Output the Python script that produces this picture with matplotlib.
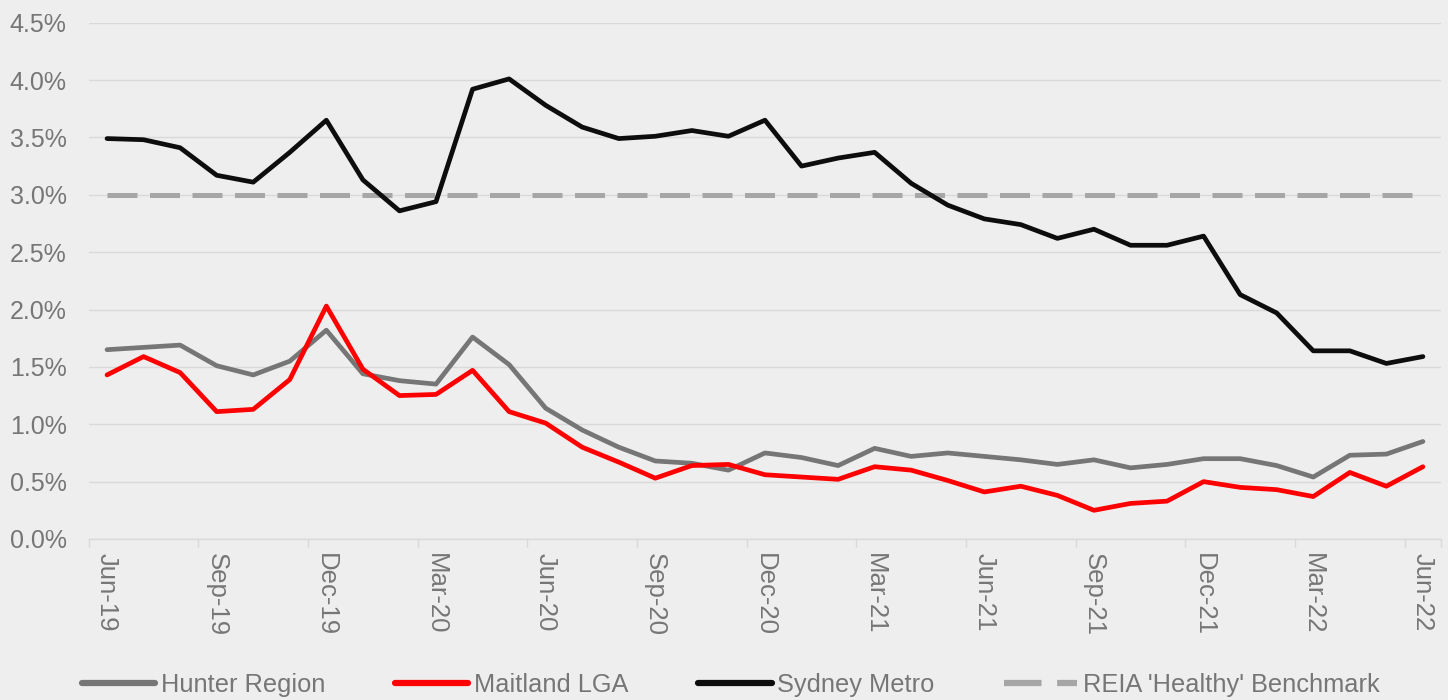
# vacancy rates: Hunter / Maitland / Sydney vs REIA benchmark

import matplotlib.pyplot as plt
from matplotlib.ticker import FuncFormatter

months = ['Jun-19', 'Jul-19', 'Aug-19', 'Sep-19', 'Oct-19', 'Nov-19', 'Dec-19',
          'Jan-20', 'Feb-20', 'Mar-20', 'Apr-20', 'May-20', 'Jun-20', 'Jul-20',
          'Aug-20', 'Sep-20', 'Oct-20', 'Nov-20', 'Dec-20', 'Jan-21', 'Feb-21',
          'Mar-21', 'Apr-21', 'May-21', 'Jun-21', 'Jul-21', 'Aug-21', 'Sep-21',
          'Oct-21', 'Nov-21', 'Dec-21', 'Jan-22', 'Feb-22', 'Mar-22', 'Apr-22',
          'May-22', 'Jun-22']

hunter = [1.65, 1.67, 1.69, 1.51, 1.43, 1.55, 1.82, 1.44, 1.38, 1.35, 1.76, 1.52,
          1.14, 0.95, 0.80, 0.68, 0.66, 0.60, 0.75, 0.71, 0.64, 0.79, 0.72, 0.75,
          0.72, 0.69, 0.65, 0.69, 0.62, 0.65, 0.70, 0.70, 0.64, 0.54, 0.73, 0.74,
          0.85]
maitland = [1.43, 1.59, 1.45, 1.11, 1.13, 1.39, 2.03, 1.48, 1.25, 1.26, 1.47, 1.11,
            1.01, 0.80, 0.67, 0.53, 0.64, 0.65, 0.56, 0.54, 0.52, 0.63, 0.60, 0.51,
            0.41, 0.46, 0.38, 0.25, 0.31, 0.33, 0.50, 0.45, 0.43, 0.37, 0.58, 0.46,
            0.63]
sydney = [3.49, 3.48, 3.41, 3.17, 3.11, 3.37, 3.65, 3.13, 2.86, 2.94, 3.92, 4.01,
          3.78, 3.59, 3.49, 3.51, 3.56, 3.51, 3.65, 3.25, 3.32, 3.37, 3.10, 2.91,
          2.79, 2.74, 2.62, 2.70, 2.56, 2.56, 2.64, 2.13, 1.97, 1.64, 1.64, 1.53,
          1.59]
benchmark = [3.0] * len(months)

bg = '#eeeeee'
txt = '#767676'
x = list(range(len(months)))

fig = plt.figure(figsize=(14.48, 7), dpi=100, facecolor=bg)
ax = fig.add_axes([0.0613, 0.23, 0.934, 0.7376], facecolor=bg)

ax.plot(x, hunter, color='#767676', lw=3.4, label='Hunter Region', solid_capstyle='round', zorder=3)
ax.plot(x, maitland, color='#ff0000', lw=3.4, label='Maitland LGA', solid_capstyle='round', zorder=4)
ax.plot(x, sydney, color='#0d0d0d', lw=3.4, label='Sydney Metro', solid_capstyle='round', zorder=5)
ax.plot(x, benchmark, color='#a6a6a6', lw=3.6, dashes=(6, 2.5), label="REIA 'Healthy' Benchmark", zorder=2)

ax.set_xlim(-0.5, len(months) - 0.5)
ax.set_ylim(0, 4.5)
ax.set_yticks([i * 0.5 for i in range(10)])
ax.yaxis.set_major_formatter(FuncFormatter(lambda v, p: f'{v:.1f}%'))
ax.grid(axis='y', color='#d9d9d9', lw=1)
ax.set_axisbelow(True)

# category labels every 3 months, tick marks between categories
ax.set_xticks(x[::3])
ax.set_xticklabels(months[::3], rotation=-90, fontsize=18.5, color=txt,
                   fontfamily='Liberation Sans')
ax.set_xticks([i - 0.5 for i in x[::3]] + [len(months) - 0.5], minor=True)
ax.tick_params(axis='x', which='major', length=0, pad=10)
ax.tick_params(axis='x', which='minor', length=6, color='#d9d9d9', width=1)
ax.tick_params(axis='y', length=0, pad=16, labelsize=18, labelcolor=txt)
for lab in ax.get_yticklabels():
    lab.set_fontfamily('Liberation Sans')

for s in ['top', 'right', 'left']:
    ax.spines[s].set_visible(False)
ax.spines['bottom'].set_color('#d9d9d9')
ax.spines['bottom'].set_linewidth(1)

leg = fig.legend(loc='center', bbox_to_anchor=(0.5045, 0.021), ncol=4, frameon=False,
                 handlelength=2.9, handletextpad=0.2, columnspacing=2.75,
                 prop={'family': 'Liberation Sans', 'size': 18.3})
for t in leg.get_texts():
    t.set_color(txt)
for h in leg.get_lines():
    h.set_linewidth(4.5)

fig.savefig('out.png', dpi=100, facecolor=bg)
